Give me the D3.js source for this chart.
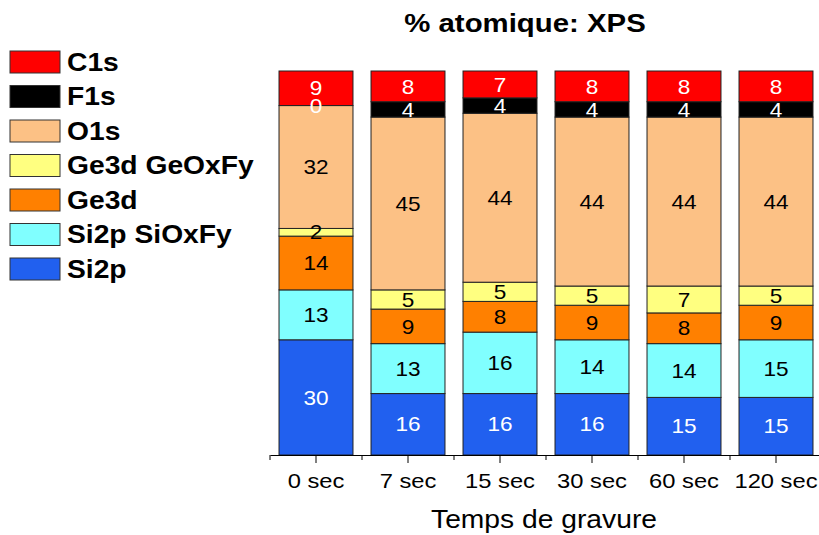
<!DOCTYPE html>
<html>
<head>
<meta charset="utf-8">
<script src="https://cdn.jsdelivr.net/npm/d3@7"></script>
<style>
  html, body { margin: 0; padding: 0; background: #fff; }
  svg { display: block; font-family: "Liberation Sans", Arial, sans-serif; }
</style>
</head>
<body>
<svg id="chart" width="819" height="535"></svg>
<script>
const categories = ["0 sec", "7 sec", "15 sec", "30 sec", "60 sec", "120 sec"];
// series from bottom to top of each stack
const seriesNames = ["Si2p", "Si2p SiOxFy", "Ge3d", "Ge3d GeOxFy", "O1s", "F1s", "C1s"];
const si2p       = [30, 16, 16, 16, 15, 15];
const si2pSiOxFy = [13, 13, 16, 14, 14, 15];
const ge3d       = [14, 9, 8, 9, 8, 9];
const ge3dGeOxFy = [2, 5, 5, 5, 7, 5];
const o1s        = [32, 45, 44, 44, 44, 44];
const f1s        = [0, 4, 4, 4, 4, 4];
const c1s        = [9, 8, 7, 8, 8, 8];
const legendOrder = ["C1s", "F1s", "O1s", "Ge3d GeOxFy", "Ge3d", "Si2p SiOxFy", "Si2p"];
const titleText = "% atomique: XPS";
const xTitle = "Temps de gravure";

const seriesValues = [si2p, si2pSiOxFy, ge3d, ge3dGeOxFy, o1s, f1s, c1s];
const colors = {
  "C1s": "#ff0000", "F1s": "#000000", "O1s": "#fcc185", "Ge3d GeOxFy": "#ffff80",
  "Ge3d": "#ff8000", "Si2p SiOxFy": "#80ffff", "Si2p": "#2160ef"
};
const labelColors = {
  "C1s": "#fff", "F1s": "#fff", "O1s": "#000", "Ge3d GeOxFy": "#000",
  "Ge3d": "#000", "Si2p SiOxFy": "#000", "Si2p": "#fff"
};
const SX = 1.13; // horizontal text stretch of the original

const rows = categories.map((c, i) => {
  const r = { cat: c };
  seriesNames.forEach((s, k) => r[s] = seriesValues[k][i]);
  return r;
});
const stacked = d3.stack().keys(seriesNames)(rows);

const svg = d3.select("#chart");
const x = d3.scaleBand().domain(categories).range([270, 822]).paddingInner(0.196).paddingOuter(0.098);
const y = d3.scaleLinear().domain([0, 100]).range([455, 71]);

// bars
const layers = svg.append("g").selectAll("g").data(stacked).join("g")
  .attr("fill", d => colors[d.key]);
layers.selectAll("rect").data(d => d).join("rect")
  .attr("x", d => x(d.data.cat))
  .attr("width", x.bandwidth())
  .attr("y", d => y(d[1]))
  .attr("height", d => y(d[0]) - y(d[1]))
  .attr("stroke", "#222")
  .attr("stroke-width", 1);

// labels
const lab = svg.append("g");
stacked.forEach(layer => {
  layer.forEach(d => {
    const cx = x(d.data.cat) + x.bandwidth() / 2;
    const cy = (y(d[0]) + y(d[1])) / 2;
    lab.append("text")
      .attr("transform", `translate(${cx},${cy}) scale(${SX},1)`)
      .attr("text-anchor", "middle")
      .attr("dy", "0.36em")
      .attr("font-size", 20)
      .attr("fill", labelColors[layer.key])
      .text(d[1] - d[0]);
  });
});

// axis
const axis = svg.append("g").attr("transform", "translate(0,455)")
  .call(d3.axisBottom(x).tickSize(8).tickSizeOuter(0).tickPadding(10));
axis.select(".domain").attr("stroke", "#000");
axis.selectAll(".tick line").attr("stroke", "#000");
axis.selectAll(".tick text")
  .attr("font-size", 21)
  .attr("font-family", "Liberation Sans, Arial, sans-serif")
  .attr("fill", "#000")
  .attr("transform", `scale(${SX},1)`);
// minor ticks at category boundaries
const bounds = d3.range(categories.length + 1).map(i => x.range()[0] + i * x.step());
axis.selectAll(".minor").data(bounds).join("line")
  .attr("class", "minor")
  .attr("x1", d => d).attr("x2", d => d)
  .attr("y1", 0).attr("y2", 5)
  .attr("stroke", "#000");

// title
svg.append("text")
  .attr("transform", `translate(525,32) scale(${SX},1)`)
  .attr("text-anchor", "middle")
  .attr("font-size", 26).attr("font-weight", "bold")
  .text(titleText);

// x title
svg.append("text")
  .attr("transform", `translate(544,528) scale(${SX},1)`)
  .attr("text-anchor", "middle")
  .attr("font-size", 25)
  .text(xTitle);

// legend
const leg = svg.append("g").selectAll("g").data(legendOrder).join("g")
  .attr("transform", (d, i) => `translate(10,${51 + i * 34.5})`);
leg.append("rect")
  .attr("width", 50).attr("height", 22)
  .attr("fill", d => colors[d])
  .attr("stroke", "#333").attr("stroke-width", 1);
leg.append("text")
  .attr("transform", `translate(57,19.5) scale(${SX},1)`)
  .attr("font-size", 25).attr("font-weight", "bold")
  .text(d => d);
</script>
</body>
</html>
